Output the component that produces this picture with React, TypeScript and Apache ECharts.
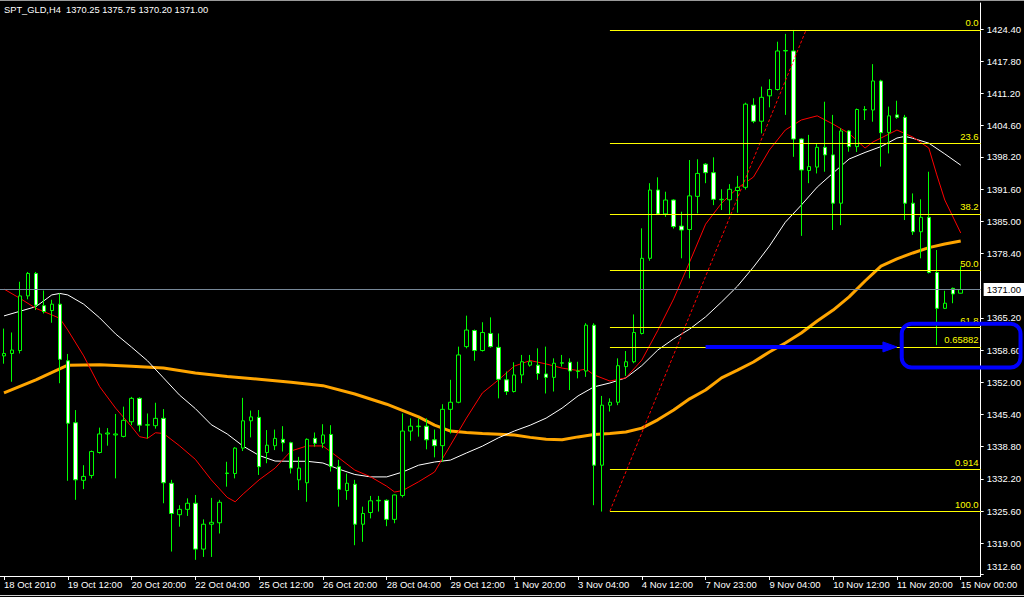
import { useEffect, useRef } from 'react';
import * as echarts from 'echarts';

const FONT = "'Liberation Sans', Arial, sans-serif";
const TITLE = 'SPT_GLD,H4 \u00a01370.25 1375.75 1370.20 1371.00';

const timeLabels = ['18 Oct 2010', '19 Oct 12:00', '20 Oct 20:00', '22 Oct 04:00', '25 Oct 12:00', '26 Oct 20:00', '28 Oct 04:00', '29 Oct 12:00', '1 Nov 20:00', '3 Nov 04:00', '4 Nov 12:00', '7 Nov 23:00', '9 Nov 04:00', '10 Nov 12:00', '11 Nov 20:00', '15 Nov 00:00'];
const LABEL_EVERY = 8;
const SLOTS = 123;

const priceTicks = [1424.4, 1417.8, 1411.2, 1404.6, 1398.2, 1391.6, 1385.0, 1378.4, 1365.2, 1358.6, 1352.0, 1345.4, 1338.8, 1332.2, 1325.6, 1319.0, 1312.6];
const Y_MIN = 1312.29;
const Y_MAX = 1429.73;

const opens = [
  1357.4, 1357.9, 1358.5, 1369.7, 1374.3, 1367.7, 1366.7, 1368.0, 1356.4, 1343.7,
  1331.9, 1332.9, 1337.6, 1341.4, 1341.2, 1340.9, 1343.9, 1348.7, 1343.2, 1343.1,
  1344.6, 1331.3, 1324.85, 1325.95, 1327.2, 1317.8, 1322.9, 1323.2, 1333.3, 1333.3,
  1338.5, 1344.1, 1344.8, 1337.6, 1339.0, 1340.3, 1339.6, 1332.0, 1331.4, 1340.5,
  1339.5, 1341.3, 1334.7, 1329.8, 1331.1, 1322.9, 1325.3, 1327.7, 1327.8, 1323.9,
  1328.8, 1342.0, 1342.9, 1343.0, 1340.2, 1339.0, 1346.45, 1347.9, 1359.3, 1362.6,
  1358.5, 1362.0, 1359.15, 1352.5, 1350.1, 1353.5, 1355.5, 1355.5, 1353.7, 1353.0,
  1355.9, 1356.1, 1354.2, 1354.3, 1363.7, 1335.0, 1347.3, 1347.9, 1355.2, 1356.2,
  1362.0, 1377.4, 1391.4, 1386.5, 1389.35, 1384.0, 1383.3, 1390.1, 1396.7, 1394.95,
  1389.4, 1389.4, 1391.3, 1391.95, 1408.8, 1405.5, 1410.7, 1412.0, 1419.9, 1419.9,
  1401.85, 1395.4, 1396.1, 1400.15, 1398.6, 1388.7, 1403.5, 1400.3, 1407.8, 1407.8,
  1413.75, 1403.2, 1406.8, 1406.3, 1388.7, 1382.85, 1385.8, 1374.5, 1367.15, 1371.25,
  1370.25
];
const highs = [
  1363.0, 1362.2, 1372.6, 1374.6, 1374.6, 1370.8, 1368.9, 1370.2, 1357.8, 1346.3,
  1335.0, 1338.0, 1342.7, 1342.6, 1345.5, 1347.0, 1349.0, 1348.9, 1345.6, 1347.8,
  1346.5, 1332.0, 1326.8, 1328.2, 1328.9, 1323.9, 1328.3, 1327.9, 1335.7, 1338.7,
  1348.8, 1346.2, 1346.3, 1342.2, 1342.3, 1343.0, 1339.8, 1336.7, 1340.5, 1341.7,
  1343.4, 1343.2, 1336.1, 1333.3, 1332.0, 1326.5, 1328.7, 1328.7, 1328.0, 1329.0,
  1345.6, 1344.6, 1344.6, 1344.6, 1342.3, 1347.5, 1352.5, 1359.3, 1365.65, 1362.8,
  1364.3, 1365.3, 1362.0, 1354.2, 1356.1, 1357.6, 1357.6, 1358.95, 1359.3, 1356.9,
  1357.6, 1356.9, 1356.2, 1364.1, 1364.1, 1349.2, 1348.7, 1356.9, 1358.4, 1365.9,
  1383.55, 1392.8, 1394.0, 1391.05, 1389.5, 1386.95, 1397.55, 1397.7, 1396.9, 1398.1,
  1391.55, 1392.6, 1394.3, 1409.3, 1410.2, 1412.6, 1414.1, 1421.8, 1423.4, 1424.2,
  1402.0, 1402.7, 1401.0, 1409.5, 1406.8, 1404.05, 1403.7, 1408.1, 1408.6, 1417.2,
  1414.0, 1408.5, 1409.7, 1406.8, 1390.7, 1389.5, 1395.15, 1379.1, 1370.75, 1371.4,
  1375.75
];
const lows = [
  1355.8, 1352.1, 1357.9, 1369.0, 1366.8, 1366.1, 1364.2, 1351.8, 1331.8, 1327.9,
  1330.1, 1332.3, 1337.4, 1339.0, 1332.3, 1340.7, 1343.2, 1341.9, 1340.5, 1342.5,
  1327.2, 1317.3, 1322.4, 1324.6, 1315.6, 1316.2, 1316.2, 1321.0, 1330.6, 1332.3,
  1337.9, 1340.7, 1333.0, 1335.4, 1338.1, 1337.8, 1333.3, 1329.9, 1327.5, 1338.8,
  1338.5, 1333.7, 1326.5, 1327.9, 1318.6, 1319.3, 1324.1, 1325.5, 1322.5, 1323.1,
  1328.4, 1340.0, 1340.85, 1338.25, 1336.6, 1335.7, 1341.5, 1347.7, 1358.95, 1356.4,
  1358.3, 1359.1, 1348.7, 1349.4, 1349.9, 1351.8, 1355.2, 1352.5, 1349.7, 1350.1,
  1355.2, 1350.4, 1352.8, 1353.1, 1326.8, 1325.5, 1346.0, 1347.3, 1353.3, 1355.9,
  1361.8, 1376.9, 1386.3, 1385.9, 1383.5, 1377.4, 1373.3, 1386.6, 1392.8, 1388.3,
  1387.3, 1386.3, 1386.75, 1391.5, 1405.1, 1403.0, 1408.35, 1411.8, 1406.8, 1398.2,
  1382.0, 1392.8, 1394.8, 1395.15, 1383.2, 1384.2, 1399.25, 1399.2, 1405.75, 1405.4,
  1396.2, 1398.9, 1406.0, 1385.25, 1382.2, 1377.4, 1374.3, 1359.6, 1367.0, 1368.2,
  1370.2
];
const closes = [
  1357.9, 1358.6, 1369.7, 1374.3, 1367.8, 1366.5, 1368.0, 1356.7, 1343.6, 1332.0,
  1332.7, 1337.8, 1341.4, 1341.6, 1341.4, 1344.2, 1348.7, 1343.2, 1343.3, 1344.6,
  1331.4, 1325.1, 1325.95, 1327.2, 1317.8, 1322.9, 1323.3, 1327.4, 1333.4, 1338.5,
  1344.1, 1344.9, 1334.7, 1339.1, 1340.5, 1339.6, 1334.4, 1334.4, 1340.3, 1339.5,
  1341.2, 1334.7, 1330.05, 1331.3, 1322.9, 1325.1, 1327.7, 1327.8, 1323.9, 1328.9,
  1342.0, 1343.0, 1343.0, 1340.2, 1339.0, 1346.45, 1347.9, 1357.6, 1362.7, 1358.5,
  1362.2, 1359.3, 1352.6, 1350.1, 1353.5, 1356.2, 1356.2, 1353.8, 1353.0, 1355.9,
  1356.0, 1354.3, 1354.3, 1363.7, 1335.0, 1347.3, 1347.9, 1355.4, 1356.2, 1362.2,
  1377.4, 1391.4, 1386.5, 1389.35, 1383.9, 1383.2, 1390.2, 1394.8, 1394.95, 1389.5,
  1389.5, 1391.55, 1391.95, 1409.0, 1405.5, 1410.4, 1412.0, 1419.9, 1420.0, 1401.85,
  1395.5, 1396.2, 1400.15, 1398.6, 1388.7, 1403.5, 1400.3, 1407.9, 1407.9, 1413.75,
  1403.15, 1406.6, 1406.3, 1388.7, 1382.85, 1385.8, 1374.5, 1367.15, 1368.2, 1370.1,
  1371.0
];

// moving averages: [bar index, price]
const redMA: [number, number][] = [
  [0, 1371.1], [2, 1369.2], [4, 1367.15], [6, 1365.8], [7, 1365.1], [8, 1362.7], [10, 1357.4], [12, 1351.1],
  [14, 1346.7], [16, 1342.9], [17, 1340.85], [18, 1340.5], [19, 1341.65], [20, 1341.5], [22, 1339.0], [24, 1336.2],
  [26, 1332.0], [28, 1328.4], [29, 1327.5], [30, 1329.1], [32, 1332.0], [34, 1334.4], [36, 1337.9], [38, 1338.95],
  [40, 1338.95], [42, 1336.5], [44, 1334.0], [46, 1332.6], [48, 1330.7], [49, 1329.5], [50, 1329.8], [52, 1331.6],
  [54, 1333.6], [56, 1339.1], [58, 1344.65], [60, 1349.8], [62, 1352.45], [64, 1355.3], [66, 1356.45], [68, 1355.75],
  [70, 1354.9], [72, 1354.4], [73, 1354.7], [74, 1353.5], [76, 1352.25], [78, 1352.9], [80, 1356.55], [82, 1362.6],
  [84, 1369.1], [86, 1376.65], [88, 1384.4], [90, 1388.7], [92, 1391.8], [94, 1394.05], [96, 1399.6], [98, 1403.7],
  [100, 1405.75], [102, 1406.6], [104, 1404.9], [106, 1403.0], [108, 1400.0], [109, 1401.25], [110, 1402.05], [112, 1403.7],
  [114, 1402.25], [116, 1400.0], [117, 1394.5], [118, 1389.35], [120, 1382.6]
];
const whiteMA: [number, number][] = [
  [0, 1365.6], [4, 1367.5], [6, 1369.9], [7, 1370.2], [8, 1369.9], [10, 1368.0], [12, 1365.2], [14, 1361.9],
  [16, 1359.2], [18, 1356.4], [20, 1352.9], [22, 1349.4], [24, 1346.6], [26, 1343.3], [28, 1341.4], [30, 1338.9],
  [32, 1337.0], [34, 1335.85], [36, 1335.8], [38, 1335.8], [40, 1335.45], [42, 1334.2], [44, 1333.1], [46, 1332.6],
  [48, 1332.6], [50, 1333.6], [52, 1335.0], [54, 1335.65], [56, 1336.05], [58, 1337.5], [60, 1338.9], [62, 1340.6],
  [64, 1342.0], [66, 1343.2], [68, 1344.65], [70, 1346.7], [72, 1349.2], [74, 1351.05], [76, 1351.85], [78, 1352.9],
  [80, 1355.4], [82, 1358.6], [84, 1360.9], [86, 1362.9], [88, 1365.4], [90, 1368.45], [92, 1371.7], [94, 1375.6],
  [96, 1379.9], [98, 1384.8], [100, 1388.3], [102, 1392.0], [104, 1394.9], [106, 1397.75], [108, 1399.1], [110, 1400.3],
  [112, 1402.05], [113, 1402.4], [114, 1402.0], [116, 1401.0], [118, 1398.8], [120, 1396.5]
];
const orangeMA: [number, number][] = [
  [0, 1349.8], [4, 1352.5], [8, 1355.5], [12, 1355.6], [16, 1355.3], [20, 1354.9], [24, 1353.9], [28, 1353.2],
  [32, 1352.6], [36, 1352.0], [40, 1351.3], [44, 1349.6], [48, 1347.5], [52, 1344.9], [54, 1343.2], [56, 1342.0],
  [58, 1341.7], [60, 1341.5], [64, 1341.2], [66, 1340.7], [68, 1340.3], [70, 1340.2], [72, 1340.8], [74, 1341.3],
  [76, 1341.5], [78, 1341.8], [80, 1342.6], [82, 1344.3], [84, 1346.3], [86, 1348.6], [88, 1350.4], [90, 1352.9],
  [92, 1354.5], [94, 1356.15], [96, 1358.2], [98, 1360.05], [100, 1362.1], [102, 1364.55], [104, 1366.8], [106, 1369.5],
  [108, 1372.75], [110, 1375.8], [112, 1377.3], [114, 1378.5], [116, 1379.6], [118, 1380.35], [120, 1380.95]
];

// hand-drawn trend line: [bar index, price]
const trendLine: [number, number][] = [[76, 1325.6], [100.6, 1424.2]];

// Fibonacci retracement
const FIB_START = 76;
const fibNames = ['0.0', '23.6', '38.2', '50.0', '61.8', '0.65882', '0.914', '100.0'];
const fibPrices = [1424.2, 1400.93, 1386.53, 1374.9, 1363.27, 1359.24, 1334.08, 1325.6];

const BID = 1371.0;

// blue annotation (data coordinates)
const arrowFrom: [number, number] = [88, 1359.24];
const arrowTo: [number, number] = [112, 1359.24];
const boxTopLeft: [number, number] = [112.6, 1364.0];
const boxBottomRight: [number, number] = [127.5, 1355.0];

export default function App() {
  const ref = useRef<HTMLDivElement>(null);

  useEffect(() => {
    if (!ref.current) return;
    const chart = echarts.init(ref.current, undefined, { renderer: 'svg' });
    const categories = Array.from({ length: SLOTS }, (_, i) => String(i));
    const showTick = (i: number) => i % LABEL_EVERY === 0 && i / LABEL_EVERY < timeLabels.length;
    const candles = opens.map((o, i) => [o, closes[i], lows[i], highs[i]]);
    const white = '#ffffff';

    const fibLines = fibPrices.map((p, i) => [
      { coord: [FIB_START, p], name: fibNames[i] },
      { coord: [SLOTS - 0.5, p] }
    ]);

    chart.setOption({
      animation: false,
      backgroundColor: '#000000',
      title: {
        text: TITLE, left: 4, top: 5, padding: 0,
        textStyle: { color: white, fontSize: 9.3, fontWeight: 'normal', fontFamily: FONT }
      },
      grid: { left: -3, top: 3, width: SLOTS * 8, height: 573, containLabel: false },
      xAxis: [
        {
          type: 'category', data: categories, boundaryGap: true, gridIndex: 0,
          axisLine: { show: true, onZero: false, lineStyle: { color: white, width: 1 } },
          axisTick: { show: true, alignWithLabel: true, interval: (i: number) => showTick(i), length: 4, lineStyle: { color: white } },
          axisLabel: {
            interval: (i: number) => showTick(i),
            formatter: (_v: string, i: number) => timeLabels[i / LABEL_EVERY] ?? '',
            align: 'left', color: white, fontSize: 9.5, fontFamily: FONT, margin: 3
          },
          splitLine: { show: false }
        },
        { type: 'value', min: -0.5, max: SLOTS - 0.5, show: false, gridIndex: 0, axisLine: { onZero: false } }
      ],
      yAxis: {
        type: 'value', position: 'right', min: Y_MIN, max: Y_MAX, scale: true,
        axisLine: { show: true, onZero: false, lineStyle: { color: white, width: 1 } },
        axisTick: { show: true, length: 3, customValues: priceTicks, lineStyle: { color: white } },
        axisLabel: {
          customValues: priceTicks, color: white, fontSize: 9.5, fontFamily: FONT, margin: 6,
          showMinLabel: true, showMaxLabel: true,
          formatter: (v: number) => (v < 1313 ? `{lo|${v.toFixed(2)}}` : v.toFixed(2)),
          rich: { lo: { padding: [0, 0, 15, 0], color: white, fontSize: 9.5, fontFamily: FONT } }
        },
        splitLine: { show: false }
      },
      series: [
        {
          name: 'MA slow', type: 'line', xAxisIndex: 1, yAxisIndex: 0, data: orangeMA,
          symbol: 'none', lineStyle: { color: '#ffa500', width: 3 }, z: 2
        },
        {
          name: 'MA mid', type: 'line', xAxisIndex: 1, yAxisIndex: 0, data: whiteMA,
          symbol: 'none', lineStyle: { color: '#ffffff', width: 1 }, z: 2
        },
        {
          name: 'MA fast', type: 'line', xAxisIndex: 1, yAxisIndex: 0, data: redMA,
          symbol: 'none', lineStyle: { color: '#ff0000', width: 1 }, z: 2
        },
        {
          name: 'SPT_GLD', type: 'candlestick', xAxisIndex: 0, yAxisIndex: 0, data: candles,
          barWidth: 4, z: 3,
          itemStyle: {
            color: '#000000', color0: '#ffffff',
            borderColor: '#00ff00', borderColor0: '#00ff00', borderColorDoji: '#00ff00', borderWidth: 1
          },
          markLine: {
            silent: true, symbol: 'none', animation: false,
            lineStyle: { color: '#778899', type: 'solid', width: 1 },
            label: {
              show: true, position: 'end', formatter: BID.toFixed(2), distance: 3,
              backgroundColor: '#ffffff', color: '#000000', fontSize: 9.5, fontFamily: FONT, padding: [2, 4, 1, 3]
            },
            data: [{ yAxis: BID }]
          }
        },
        {
          name: 'Trend', type: 'line', xAxisIndex: 1, yAxisIndex: 0, data: trendLine,
          symbol: 'none', lineStyle: { color: '#ff0000', width: 1, type: [3, 2] }, z: 4,
          markLine: {
            silent: true, symbol: 'none', animation: false,
            lineStyle: { color: '#ffff00', type: 'solid', width: 1 },
            label: {
              show: true, position: 'insideEndTop', formatter: (p: any) => p.name, distance: [2, 2],
              color: '#ffff00', fontSize: 9.5, fontFamily: FONT
            },
            data: fibLines
          }
        }
      ]
    });

    const px = (pt: [number, number]) => chart.convertToPixel({ seriesIndex: 0 }, pt) as number[];
    const a0 = px(arrowFrom);
    const a1 = px(arrowTo);
    const b0 = px(boxTopLeft);
    const b1 = px(boxBottomRight);
    const blue = '#0000ff';
    chart.setOption({
      graphic: [
        { type: 'line', z: 100, shape: { x1: 0, y1: 0.5, x2: 1024, y2: 0.5 }, style: { stroke: '#9a9a9a', lineWidth: 1 } },
        { type: 'line', z: 100, shape: { x1: 0, y1: 595.5, x2: 1024, y2: 595.5 }, style: { stroke: '#d0d0d0', lineWidth: 1 } },
        { type: 'line', z: 100, shape: { x1: a0[0], y1: a0[1], x2: a1[0] - 12, y2: a1[1] }, style: { stroke: blue, lineWidth: 4 } },
        {
          type: 'polygon', z: 100,
          shape: { points: [[a1[0] - 14, a1[1] - 5], [a1[0], a1[1]], [a1[0] - 14, a1[1] + 5]] },
          style: { fill: blue, stroke: blue, lineWidth: 1 }
        },
        {
          type: 'rect', z: 100,
          shape: { x: b0[0], y: b0[1], width: b1[0] - b0[0], height: b1[1] - b0[1], r: 10 },
          style: { fill: 'none', stroke: blue, lineWidth: 4 }
        }
      ]
    });

    return () => chart.dispose();
  }, []);

  return (
    <div
      ref={ref}
      style={{ width: 1024, height: 597, position: 'fixed', left: 0, top: 0, background: '#000' }}
    />
  );
}
